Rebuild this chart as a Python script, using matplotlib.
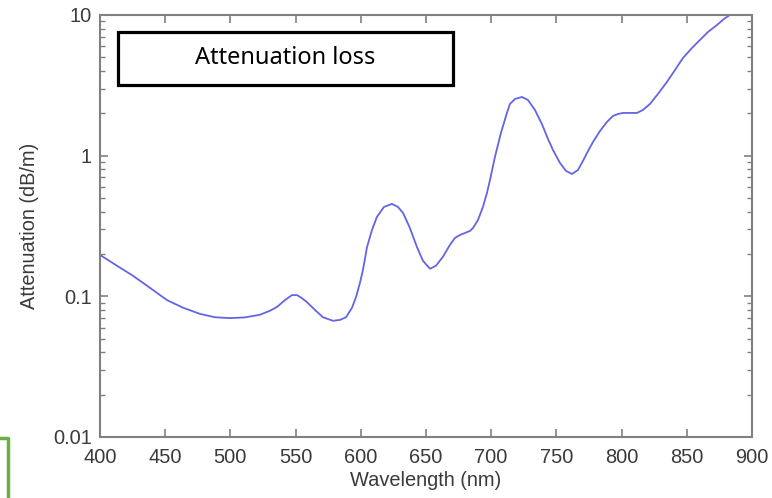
import numpy as np
import matplotlib.pyplot as plt
from matplotlib.patches import Rectangle
from matplotlib.lines import Line2D
from matplotlib.ticker import LogLocator, NullFormatter, FixedLocator, FixedFormatter

# values
wavelength = [400.0, 413.0, 425.3, 438.3, 451.4, 463.7, 476.7, 488.2, 499.7, 511.2,
              522.7, 530.4, 535.7, 541.9, 547.2, 551.1, 554.9, 558.7, 564.9, 571.0,
              578.7, 584.1, 588.7, 593.3, 596.4, 599.4, 601.7, 604.8, 608.6, 612.4,
              617.8, 623.9, 628.5, 632.4, 637.7, 643.1, 647.7, 653.1, 657.7, 663.0,
              668.4, 672.2, 676.1, 679.9, 683.8, 686.1, 689.9, 693.7, 696.8, 699.1,
              702.9, 707.5, 712.1, 714.4, 718.3, 723.6, 728.2, 733.6, 738.9, 743.6,
              747.4, 752.8, 757.4, 762.0, 766.6, 770.4, 773.5, 778.1, 783.5, 788.8,
              793.4, 797.3, 801.1, 806.5, 811.8, 816.4, 821.8, 827.9, 834.8, 841.0,
              847.1, 854.0, 860.1, 866.3, 873.2, 878.5, 883.1, 887.8]
attenuation = [0.197, 0.165, 0.140, 0.115, 0.094, 0.083, 0.075, 0.071, 0.070, 0.0708,
               0.074, 0.079, 0.084, 0.094, 0.102, 0.102, 0.097, 0.091, 0.080, 0.071,
               0.067, 0.068, 0.071, 0.083, 0.099, 0.125, 0.154, 0.224, 0.296, 0.367,
               0.432, 0.454, 0.432, 0.392, 0.306, 0.224, 0.179, 0.157, 0.165, 0.191,
               0.232, 0.260, 0.273, 0.282, 0.292, 0.306, 0.349, 0.432, 0.543, 0.672,
               0.979, 1.450, 2.012, 2.330, 2.529, 2.613, 2.489, 2.113, 1.680, 1.314,
               1.098, 0.887, 0.779, 0.741, 0.791, 0.917, 1.045, 1.251, 1.498, 1.736,
               1.915, 1.979, 2.012, 2.012, 2.012, 2.113, 2.330, 2.745, 3.340, 4.066,
               4.947, 5.830, 6.641, 7.571, 8.490, 9.367, 10.0, 10.68]

x_ticks = [400, 450, 500, 550, 600, 650, 700, 750, 800, 850, 900]
y_ticks = [0.01, 0.1, 1, 10]
y_tick_labels = ['0.01', '0.1', '1', '10']

plt.rcParams['font.family'] = ['Liberation Sans', 'DejaVu Sans']
axis_grey = '#808080'
text_grey = '#3a3a3a'

fig = plt.figure(figsize=(7.72, 4.98), dpi=100)
ax = fig.add_axes([0.1295, 0.1225, 0.8445, 0.8474])

ax.plot(wavelength, attenuation, color='#6464e6', linewidth=1.3,
        solid_joinstyle='round', solid_capstyle='round')
ax.set_yscale('log')
ax.set_xlim(400, 900)
ax.set_ylim(0.01, 10)

ax.xaxis.set_major_locator(FixedLocator(x_ticks))
ax.yaxis.set_major_locator(FixedLocator(y_ticks))
ax.yaxis.set_major_formatter(FixedFormatter(y_tick_labels))
ax.yaxis.set_minor_locator(LogLocator(base=10, subs=np.arange(2, 10)))
ax.yaxis.set_minor_formatter(NullFormatter())

ax.tick_params(axis='both', which='both', direction='in', top=True, right=True,
               color=axis_grey, labelcolor=text_grey, labelsize=14.4)
ax.tick_params(axis='both', which='major', length=6, width=1.2, pad=6)
ax.tick_params(axis='x', which='major', pad=8)
ax.tick_params(axis='y', which='minor', length=3.5, width=1.0)
for sp in ax.spines.values():
    sp.set_color(axis_grey)
    sp.set_linewidth(1.5)

ax.set_xlabel('Wavelength (nm)', fontsize=14.4, color=text_grey, labelpad=3)
ax.set_ylabel('Attenuation (dB/m)', fontsize=14.4, color=text_grey, labelpad=10)

# title box inside the axes
ax.add_patch(Rectangle((0.0276, 0.834), 0.5138, 0.126, transform=ax.transAxes,
                       facecolor='white', edgecolor='black', linewidth=2.3,
                       zorder=5))
ax.text(0.284, 0.897, 'Attenuation loss', transform=ax.transAxes,
        ha='center', va='center', fontsize=17, family=['Noto Sans', 'DejaVu Sans'],
        color='black', zorder=6)

# green bracket at the bottom left corner
bx = 7.5 / 772
by = (498 - 438) / 498
fig.add_artist(Line2D([0, bx, bx], [by, by, 0], transform=fig.transFigure,
                      color='#6aaf45', linewidth=2.5))

fig.savefig('out.png', dpi=100)
